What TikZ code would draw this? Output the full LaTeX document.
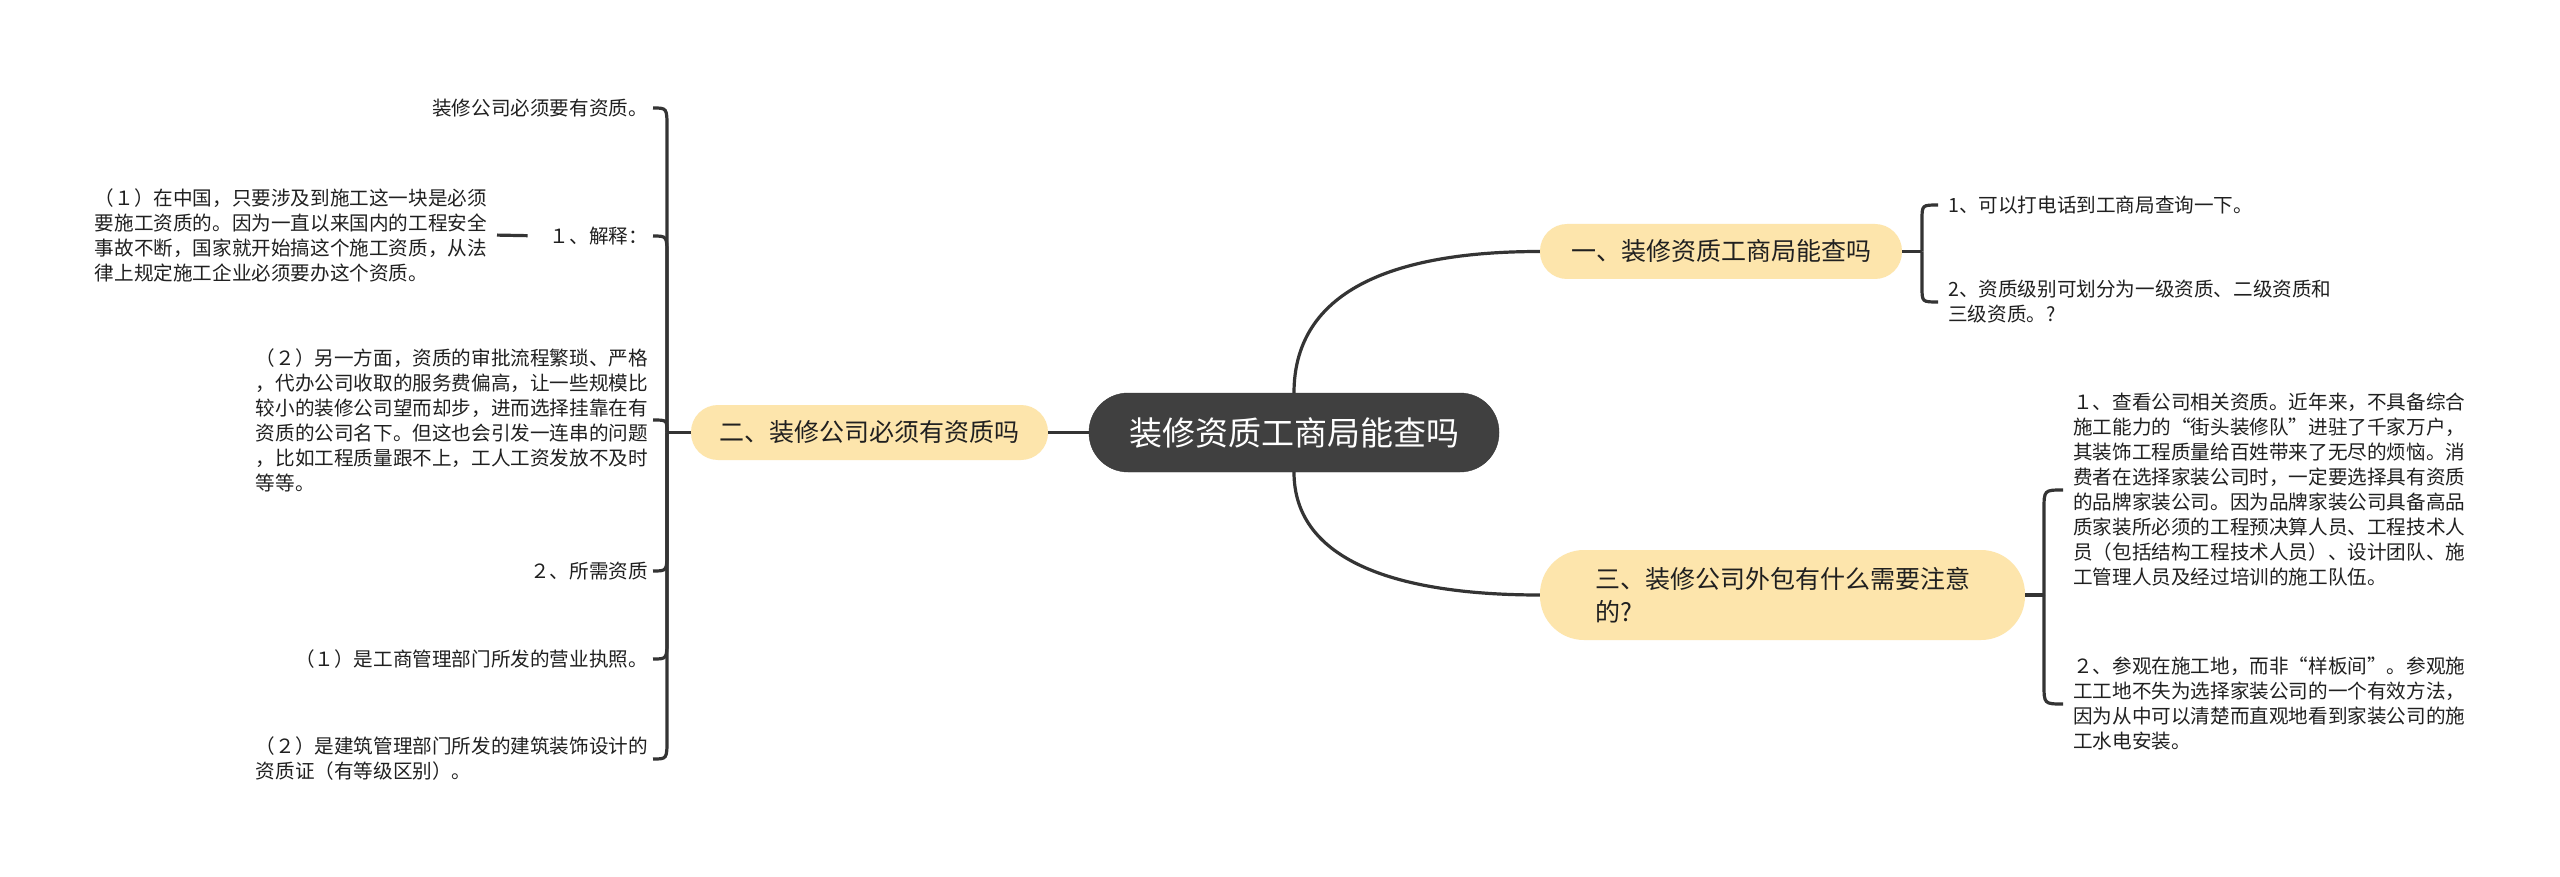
\documentclass[tikz,border=0pt]{standalone}
\usepackage{fontspec}
\setmainfont{Noto Sans CJK SC}
\definecolor{TopicYellow}{RGB}{253,229,172}
\definecolor{RootGray}{RGB}{64,64,64}
\definecolor{LinkGray}{RGB}{52,52,52}
\definecolor{TextGray}{RGB}{32,32,32}

\begin{document}
\begin{tikzpicture}[x=1pt, y=-1pt,
    rootnode/.style={fill=RootGray, draw=RootGray!85!black, rounded corners=39pt, minimum width=410pt, minimum height=79pt, text=white, font=\fontsize{33pt}{40pt}\selectfont},
    topic/.style={fill=TopicYellow, rounded corners=27pt, minimum height=55pt, text=TextGray, align=left, font=\fontsize{25pt}{33pt}\selectfont},
    leafl/.style={anchor=east, inner xsep=5pt, inner ysep=0pt, align=left, text=TextGray, font=\fontsize{19.6pt}{25pt}\selectfont},
    leafr/.style={leafl, anchor=west, inner xsep=10pt},
    link/.style={draw=LinkGray, line width=3.2pt}
  ]
    \fill[white] (0,0) rectangle (2560,877);
    \useasboundingbox (0,0) rectangle (2560,877);

    \node[rootnode] (root) at (1294,432.5) {装修资质工商局能查吗};
    \node[topic, minimum width=362pt] (t1) at (1721,251.5) {一、装修资质工商局能查吗};
    \node[topic, minimum width=357pt] (t2) at (869.5,432.5) {二、装修公司必须有资质吗};
    \node[topic, minimum width=485pt, minimum height=90pt, rounded corners=44pt] (t3) at (1782.5,595) {三、装修公司外包有什么需要注意\\的?};

    \node[leafl] (must) at (653,108) {装修公司必须要有资质。};
    \node[leafl] (expl) at (653,236) {１、解释：};
    \node[leafl] (expd) at (492,235) {（１）在中国，只要涉及到施工这一块是必须\\要施工资质的。因为一直以来国内的工程安全\\事故不断，国家就开始搞这个施工资质，从法\\律上规定施工企业必须要办这个资质。};
    \node[leafl] (cost) at (653,420) {（２）另一方面，资质的审批流程繁琐、严格\\，代办公司收取的服务费偏高，让一些规模比\\较小的装修公司望而却步，进而选择挂靠在有\\资质的公司名下。但这也会引发一连串的问题\\，比如工程质量跟不上，工人工资发放不及时\\等等。};
    \node[leafl] (need) at (653,571) {２、所需资质};
    \node[leafl] (licence) at (653,659) {（１）是工商管理部门所发的营业执照。};
    \node[leafl] (cert) at (653,759) {（２）是建筑管理部门所发的建筑装饰设计的\\资质证（有等级区别）。};

    \node[leafr] (phone) at (1938,205) {1、可以打电话到工商局查询一下。};
    \node[leafr] (grade) at (1938,302) {2、资质级别可划分为一级资质、二级资质和\\三级资质。?};
    \node[leafr] (check) at (2063,490) {１、查看公司相关资质。近年来，不具备综合\\施工能力的“街头装修队”进驻了千家万户，\\其装饰工程质量给百姓带来了无尽的烦恼。消\\费者在选择家装公司时，一定要选择具有资质\\的品牌家装公司。因为品牌家装公司具备高品\\质家装所必须的工程预决算人员、工程技术人\\员（包括结构工程技术人员）、设计团队、施\\工管理人员及经过培训的施工队伍。};
    \node[leafr] (visit) at (2063,704) {２、参观在施工地，而非“样板间”。参观施\\工工地不失为选择家装公司的一个有效方法，\\因为从中可以清楚而直观地看到家装公司的施\\工水电安装。};

    \coordinate (lj) at (667,432.5);
    \coordinate (aj) at (1922,251.5);
    \coordinate (cj) at (2044,595);

    \draw[link] (root.west) -- (t2.east);
    \draw[link] (root.north) .. controls +(0,-95) and +(-160,0) .. (t1.west);
    \draw[link] (root.south) .. controls +(0,90) and +(-140,0) .. (t3.west);

    \draw[link] (t2.west) -- (lj);
    \foreach \n in {must,expl}
      \draw[link] (lj) -- ([yshift=-20pt]lj |- \n.east) .. controls (lj |- \n.east) .. (\n.east);
    \draw[link] (lj) .. controls (lj |- cost.east) .. (cost.east);
    \foreach \n in {need,licence,cert}
      \draw[link] (lj) -- ([yshift=20pt]lj |- \n.east) .. controls (lj |- \n.east) .. (\n.east);
    \draw[link, shorten <=5pt, shorten >=17pt] (expd.east) -- (expl.west);

    \draw[link] (t1.east) -- (aj);
    \draw[link] (aj) -- ([yshift=-15pt]aj |- phone.west) .. controls (aj |- phone.west) .. (phone.west);
    \draw[link] (aj) -- ([yshift=15pt]aj |- grade.west) .. controls (aj |- grade.west) .. (grade.west);

    \draw[link] (t3.east) -- (cj);
    \draw[link] (cj) -- ([yshift=-20pt]cj |- check.west) .. controls (cj |- check.west) .. (check.west);
    \draw[link] (cj) -- ([yshift=20pt]cj |- visit.west) .. controls (cj |- visit.west) .. (visit.west);
  \end{tikzpicture}
\end{document}
